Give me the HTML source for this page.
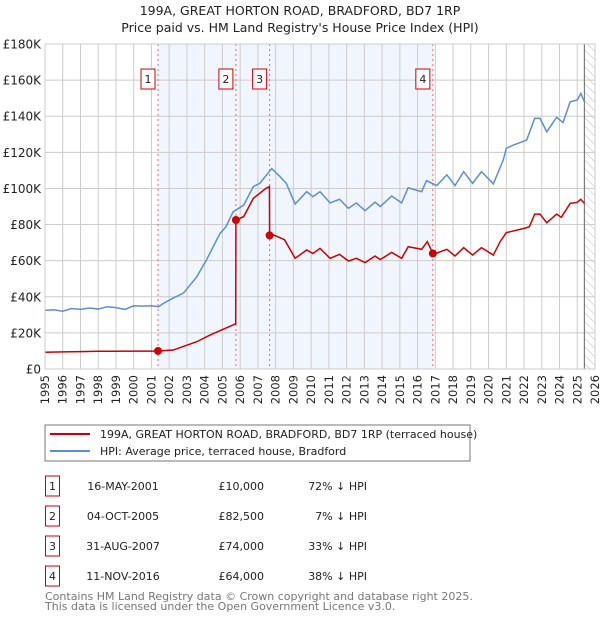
<!DOCTYPE html>
<html><head><meta charset="utf-8"><style>
body{margin:0;background:#fff;font-family:"DejaVu Sans","Liberation Sans",sans-serif;}
svg{display:block}
</style></head><body>
<svg id="c" width="600" height="620" viewBox="0 0 600 620">
<defs><pattern id="hatch" width="6" height="6" patternUnits="userSpaceOnUse" patternTransform="rotate(-45)"><line x1="0" y1="0" x2="0" y2="6" stroke="#bbb" stroke-width="1"/></pattern></defs>
<text x="300" y="15" text-anchor="middle" font-size="12.5" fill="#222">199A, GREAT HORTON ROAD, BRADFORD, BD7 1RP</text>
<text x="300" y="32" text-anchor="middle" font-size="12.5" fill="#222">Price paid vs. HM Land Registry's House Price Index (HPI)</text>
<g id="plot"></g>
<rect x="45" y="425" width="425" height="36" fill="#fff" stroke="#777"/>
<line x1="50" y1="434" x2="90" y2="434" stroke="#cc0000" stroke-width="2"/>
<text x="100" y="438" font-size="11" fill="#222">199A, GREAT HORTON ROAD, BRADFORD, BD7 1RP (terraced house)</text>
<line x1="50" y1="451" x2="90" y2="451" stroke="#5b8fd4" stroke-width="2"/>
<text x="100" y="455" font-size="11" fill="#222">HPI: Average price, terraced house, Bradford</text>
<g id="table" font-size="11" fill="#222"></g>
<text x="45" y="600" font-size="11" fill="#777">Contains HM Land Registry data © Crown copyright and database right 2025.</text>
<text x="45" y="610" font-size="11" fill="#777">This data is licensed under the Open Government Licence v3.0.</text>
</svg>
<script>
const yTicks=[0,20000,40000,60000,80000,100000,120000,140000,160000,180000];
const yTickLabels=["£0","£20K","£40K","£60K","£80K","£100K","£120K","£140K","£160K","£180K"];
const xYears=[1995,1996,1997,1998,1999,2000,2001,2002,2003,2004,2005,2006,2007,2008,2009,2010,2011,2012,2013,2014,2015,2016,2017,2018,2019,2020,2021,2022,2023,2024,2025,2026];
const hpiT=[1995,1995.5,1996,1996.5,1997,1997.5,1998,1998.5,1999,1999.5,2000,2000.5,2001,2001.4,2001.7,2002.23,2002.8,2003.55,2004.1,2004.86,2005.2,2005.6,2006.2,2006.74,2007.1,2007.78,2008.25,2008.6,2009.1,2009.75,2010.1,2010.5,2011.07,2011.6,2012.1,2012.55,2013.04,2013.6,2013.9,2014.54,2015.1,2015.47,2016.23,2016.5,2017.08,2017.65,2018.11,2018.6,2019.1,2019.6,2020.27,2020.83,2021.0,2021.4,2022.15,2022.6,2022.9,2023.28,2023.84,2024.2,2024.6,2025.0,2025.2,2025.4];
const hpiV=[32500,32800,32000,33500,33000,33800,33200,34500,34000,33000,35000,34800,35000,34500,36500,39300,42000,51000,60400,75000,78800,87000,90800,101000,102800,111000,106500,102800,91400,98200,95500,98200,92000,94000,89000,92000,87700,92400,90000,95800,92000,100400,98200,104300,101600,107500,101600,109300,102800,109300,102500,115800,122200,124000,126800,138800,138800,131400,139400,136500,148000,149000,152600,148000];
const ppT=[1995,1996,1997,1998,1999,2000,2001,2001.37,2002.23,2003.55,2004.3,2004.86,2005.6,2005.75,2005.76,2006.2,2006.74,2007.45,2007.65,2007.66,2007.9,2008.5,2009.1,2009.75,2010.1,2010.5,2011.07,2011.6,2012.1,2012.55,2013.04,2013.6,2013.9,2014.54,2015.1,2015.47,2016.23,2016.55,2016.86,2017.08,2017.65,2018.11,2018.6,2019.1,2019.6,2020.27,2020.65,2021.0,2022.0,2022.3,2022.6,2022.9,2023.28,2023.84,2024.1,2024.6,2025.0,2025.2,2025.4];
const ppV=[9300,9500,9600,9800,9800,9900,9900,10000,10500,15100,18800,21200,24400,25000,82500,84400,94500,100000,101000,74000,74200,71600,61300,65900,64000,66800,61300,63500,59800,61300,58900,62600,60600,64600,61300,67700,66300,70500,64000,64200,66300,62600,67200,63100,67200,63100,70500,75500,77900,78800,85800,85800,81000,85800,84000,91700,92300,94000,91700];
const saleT=[2001.37,2005.76,2007.66,2016.86];
const saleV=[10000,82500,74000,64000];
const saleLabels=["1","2","3","4"];
const saleDates=["16-MAY-2001","04-OCT-2005","31-AUG-2007","11-NOV-2016"];
const salePrices=["£10,000","£82,500","£74,000","£64,000"];
const saleHpi=["72% ↓ HPI","7% ↓ HPI","33% ↓ HPI","38% ↓ HPI"];
const dataEnd=2025.4;

const X0=45,X1=595,Y0=369,Y1=44;
const x=t=>X0+(t-1995)/(2026-1995)*(X1-X0);
const y=v=>Y0-v/180000*(Y0-Y1);
const NS="http://www.w3.org/2000/svg";
const plot=document.getElementById('plot');
function mk(tag,at,parent){const e=document.createElementNS(NS,tag);for(const k in at)e.setAttribute(k,at[k]);(parent||plot).appendChild(e);return e;}
let e;
e=mk('rect',{x:X0,y:Y1,width:X1-X0,height:Y0-Y1,fill:'#fff'});


e=mk('rect',{x:x(saleT[0]),y:Y1,width:x(saleT[3])-x(saleT[0]),height:Y0-Y1,fill:'#eef3fd',opacity:0.8});


e=mk('rect',{x:x(dataEnd),y:Y1,width:X1-x(dataEnd),height:Y0-Y1,fill:'url(#hatch)'});


xYears.forEach(t=>{e=mk('line',{x1:x(t),x2:x(t),y1:Y1,y2:Y0,stroke:'#ccc','stroke-width':1});


e=mk('text',{x:0,y:0,'text-anchor':'end','font-size':11.5,fill:'#222',transform:'translate('+(x(t)+4)+',375) rotate(-90)'});e.textContent=t;

});
yTicks.forEach((v,i)=>{e=mk('line',{x1:X0,x2:X1,y1:y(v),y2:y(v),stroke:'#ccc','stroke-width':1});


e=mk('text',{x:41,y:y(v)+4.5,'text-anchor':'end','font-size':12,fill:'#222'});e.textContent=yTickLabels[i];

});
e=mk('line',{x1:x(dataEnd),x2:x(dataEnd),y1:Y1,y2:Y0,stroke:'#666','stroke-width':1});


saleT.forEach((t,i)=>{e=mk('line',{x1:x(t),x2:x(t),y1:Y1,y2:Y0,stroke:'#e66','stroke-width':1,'stroke-dasharray':'2,3'});


e=mk('rect',{x:x(t)-17,y:69,width:14,height:20,fill:'#fff',stroke:'#c00','stroke-width':1});


e=mk('text',{x:x(t)-10,y:83,'text-anchor':'middle','font-size':11,fill:'#222'});e.textContent=saleLabels[i];

});
e=mk('polyline',{points:hpiT.map((t,i)=>x(t)+','+y(hpiV[i])).join(' '),fill:'none',stroke:'#5b8fd4','stroke-width':1.5});


e=mk('polyline',{points:ppT.map((t,i)=>x(t)+','+y(ppV[i])).join(' '),fill:'none',stroke:'#cc0000','stroke-width':1.5});


saleT.forEach((t,i)=>{e=mk('circle',{cx:x(t),cy:y(saleV[i]),r:4,fill:'#cc0000'});

});
e=mk('rect',{x:X0,y:Y1,width:X1-X0,height:Y0-Y1,fill:'none',stroke:'#ccc'});


const tb=document.getElementById('table');
saleT.forEach((t,i)=>{const ry=476+i*30;
e=mk('rect',{x:45.5,y:ry,width:14,height:20,fill:'#fff',stroke:'#c00'},tb);


e=mk('text',{x:52.5,y:ry+14,'text-anchor':'middle'},tb);e.textContent=saleLabels[i];


e=mk('text',{x:123,y:ry+14,'text-anchor':'middle'},tb);e.textContent=saleDates[i];


e=mk('text',{x:264,y:ry+14,'text-anchor':'end'},tb);e.textContent=salePrices[i];


e=mk('text',{x:367,y:ry+14,'text-anchor':'end'},tb);e.textContent=saleHpi[i];

});
</script>
</body></html>
